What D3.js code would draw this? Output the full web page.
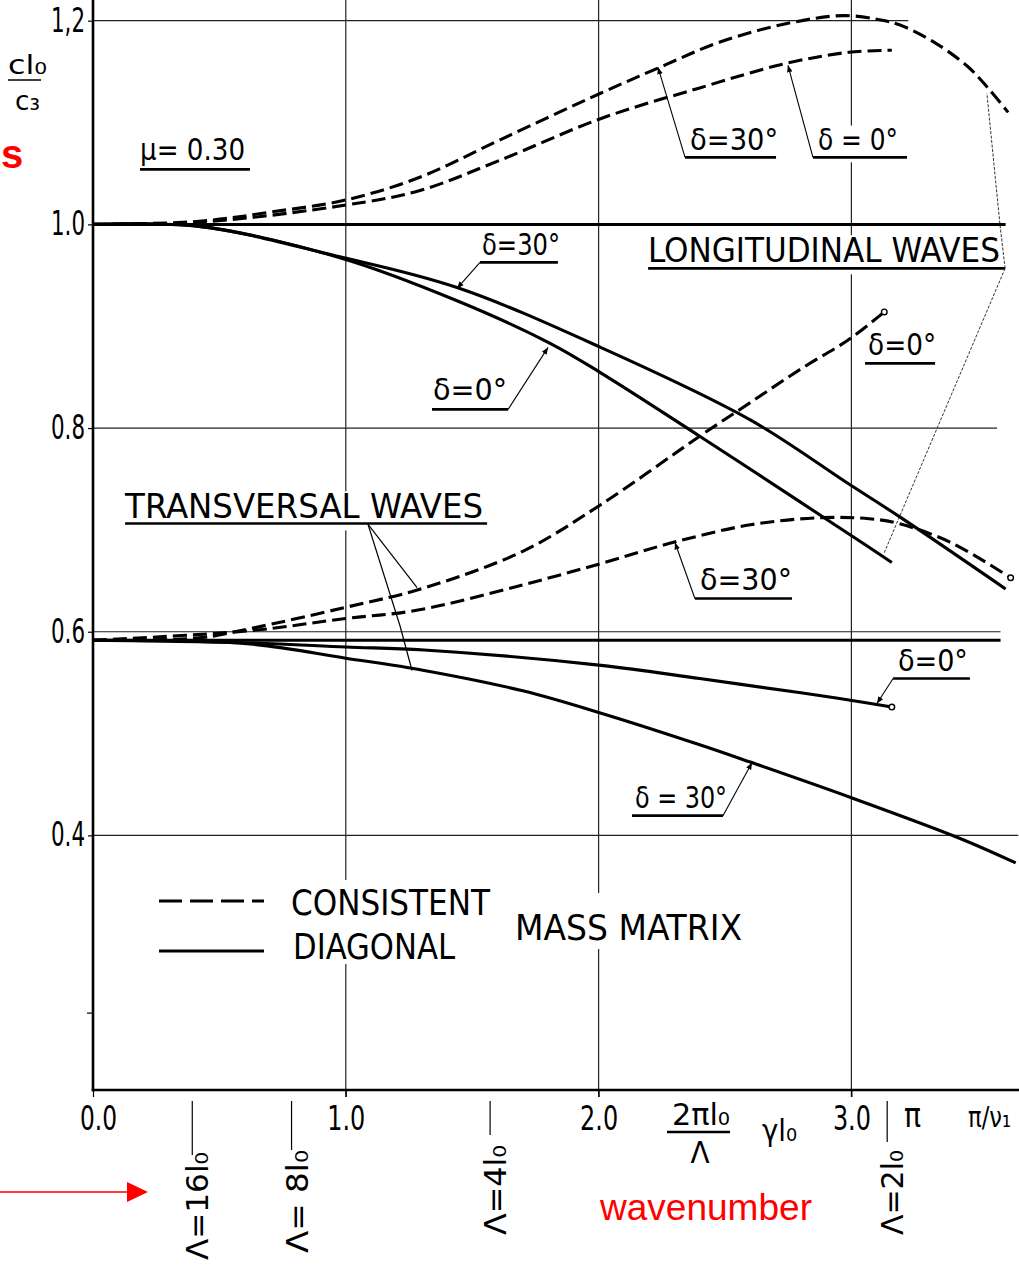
<!DOCTYPE html>
<html><head><meta charset="utf-8">
<script src="https://cdn.jsdelivr.net/npm/d3@7"></script>
<style>
html,body{margin:0;padding:0;background:#fff;}
svg{display:block;}
</style></head><body>
<svg id="c" width="1019" height="1268"></svg>
<script>
// ---------------- DATA ----------------
const yTicks = [0.4, 0.6, 0.8, 1.0, 1.2];
const yTickLabels = ["0.4", "0.6", "0.8", "1.0", "1,2"];
const yMinorTicks = [0.226];
const xTicks = [0, 1, 2, 3];
const xTickLabels = ["0.0", "1.0", "2.0", "3.0"];
const lambdaMultiples = [16, 8, 4, 2];            // Λ = n·l0  ->  γ l0 = 2π/n
const lambdaLabels = ["Λ=16l₀", "Λ= 8l₀", "Λ=4l₀", "Λ=2l₀"];

// Longitudinal waves
const longConsist30X = [0, 0.42, 0.70, 1.00, 1.29, 1.61, 2.01, 2.24, 2.48, 2.76, 2.97, 3.11, 3.19, 3.32, 3.46, 3.54, 3.62];
const longConsist30Y = [1.000, 1.003, 1.012, 1.024, 1.046, 1.083, 1.129, 1.154, 1.179, 1.198, 1.205, 1.201, 1.196, 1.180, 1.155, 1.134, 1.110];
const longConsist0X = [0, 0.42, 1.00, 1.29, 1.61, 2.01, 2.40, 2.74, 2.99, 3.16];
const longConsist0Y = [1.000, 1.002, 1.019, 1.033, 1.063, 1.104, 1.134, 1.158, 1.169, 1.171];
const longDiag30X = [0, 0.42, 0.98, 1.44, 2.01, 2.60, 2.99, 3.19, 3.61];
const longDiag30Y = [1.000, 0.998, 0.968, 0.938, 0.879, 0.808, 0.745, 0.713, 0.642];
const longDiag0X = [0, 0.42, 0.98, 1.44, 1.81, 2.01, 2.40, 2.80, 2.99, 3.16];
const longDiag0Y = [1.000, 0.998, 0.967, 0.925, 0.883, 0.854, 0.792, 0.727, 0.696, 0.668];

// Transversal waves
const transConsist0X = [0, 0.42, 0.62, 1.00, 1.31, 1.70, 2.01, 2.40, 2.60, 2.80, 2.99, 3.13];
const transConsist0Y = [0.5916, 0.594, 0.603, 0.624, 0.643, 0.679, 0.725, 0.792, 0.825, 0.858, 0.887, 0.914];
const transConsist30X = [0, 0.62, 1.00, 1.28, 1.70, 2.01, 2.30, 2.60, 2.88, 3.07, 3.19, 3.39, 3.63];
const transConsist30Y = [0.5916, 0.601, 0.613, 0.621, 0.646, 0.667, 0.688, 0.705, 0.712, 0.711, 0.706, 0.688, 0.653];
const transDiag0X = [0, 0.62, 1.00, 1.31, 2.01, 2.40, 2.80, 2.99, 3.16];
const transDiag0Y = [0.5916, 0.589, 0.585, 0.582, 0.567, 0.554, 0.540, 0.533, 0.526];
const transDiag30X = [0, 0.62, 1.00, 1.31, 1.70, 2.01, 2.40, 2.60, 3.00, 3.43, 3.65];
const transDiag30Y = [0.5916, 0.588, 0.574, 0.562, 0.542, 0.520, 0.489, 0.472, 0.437, 0.397, 0.373];

// reference levels (c/c3 = 1 and sqrt((1-μ)/2) for μ = 0.30)
const refLevels = [1.0, 0.5916];
const refLevelEnds = [3.61, 3.59];
const gridYValues = [0.4, 0.6, 0.8, 1.2];
const gridYEnds = [3.66, 3.59, 3.576, 3.225];
const gridXValues = [1, 2, 3];

// ---------------- SCALES ----------------
const W = 1019, H = 1268;
const x = d3.scaleLinear().domain([0, 3.6]).range([93, 93 + 3.6 * 252.8]);
const y = d3.scaleLinear().domain([0.15, 1.2]).range([1090, 20.7]);
const FONT = "'DejaVu Sans Condensed','Liberation Sans Narrow','Roboto Condensed','DejaVu Sans',sans-serif";
const svg = d3.select("#c");
svg.append("rect").attr("width", W).attr("height", H).attr("fill", "#fff");

// arrow marker for leaders
const defs = svg.append("defs");
defs.append("marker").attr("id", "ah").attr("viewBox", "0 0 10 10")
  .attr("refX", 10).attr("refY", 5).attr("markerWidth", 7).attr("markerHeight", 7)
  .attr("orient", "auto-start-reverse").attr("markerUnits", "userSpaceOnUse")
  .append("path").attr("d", "M0,1 L10,5 L0,9 Z").attr("fill", "#000");

// ---------------- GRID ----------------
const grid = svg.append("g");
gridYValues.forEach((v, i) => {
  grid.append("line").attr("x1", x(0)).attr("x2", x(gridYEnds[i]))
    .attr("y1", y(v)).attr("y2", y(v)).attr("stroke", "#222").attr("stroke-width", 1.2);
});
gridXValues.forEach(v => {
  grid.append("line").attr("x1", x(v)).attr("x2", x(v))
    .attr("y1", 0).attr("y2", y(0.15) + 7).attr("stroke", "#222").attr("stroke-width", 1.2);
});

// ---------------- LABEL HELPERS ----------------
const labelLayer = svg.append("g");
function txt(g, s, px, py, size, width, opts = {}) {
  const t = g.append("text").attr("x", px).attr("y", py)
    .attr("font-family", opts.family || FONT).attr("font-size", size)
    .attr("fill", opts.fill || "#000").text(s);
  if (opts.weight) t.attr("font-weight", opts.weight);
  if (opts.anchor) t.attr("text-anchor", opts.anchor);
  if (width) t.attr("textLength", width).attr("lengthAdjust", "spacingAndGlyphs");
  return t;
}
function bgBox(g, px, py, w, h) {
  g.append("rect").attr("x", px).attr("y", py).attr("width", w).attr("height", h).attr("fill", "#fff");
}

// annotations (positions in data units)
const annotations = [
  {s: "δ=30°", tx: 2.362, ty: 1.0727, w: 88, u: [2.342, 2.702, 1.0658], lead: [[2.342, 1.0658], [2.235, 1.1542]]},
  {s: "δ = 0°", tx: 2.868, ty: 1.0727, w: 80, u: [2.848, 3.220, 1.0658], lead: [[2.848, 1.0658], [2.749, 1.1562]]},
  {s: "δ=30°", tx: 1.539, ty: 0.9695, w: 78, u: [1.531, 1.839, 0.9627], lead: [[1.531, 0.9627], [1.440, 0.9371]]},
  {s: "δ=0°", tx: 1.345, ty: 0.8271, w: 74, u: [1.341, 1.642, 0.8183], lead: [[1.642, 0.8183], [1.800, 0.8792]]},
  {s: "δ=0°", tx: 3.066, ty: 0.8713, w: 68, u: [3.054, 3.331, 0.8635], lead: null},
  {s: "δ=30°", tx: 2.401, ty: 0.6405, w: 92, u: [2.381, 2.765, 0.6326], lead: [[2.381, 0.6326], [2.302, 0.6876]]},
  {s: "δ=0°", tx: 3.184, ty: 0.5619, w: 70, u: [3.165, 3.469, 0.554], lead: [[3.165, 0.554], [3.101, 0.5295]]},
  {s: "δ = 30°", tx: 2.144, ty: 0.4273, w: 92, u: [2.132, 2.492, 0.4194], lead: [[2.492, 0.4194], [2.607, 0.4715]]},
  {s: "μ= 0.30", tx: 0.186, ty: 1.0629, w: 105, u: [0.186, 0.621, 1.054], lead: null},
  {s: "LONGITUDINAL  WAVES", tx: 2.195, ty: 0.9627, w: 352, u: [2.196, 3.608, 0.9568], lead: null},
  {s: "TRANSVERSAL  WAVES", tx: 0.127, ty: 0.7112, w: 358, u: [0.127, 1.559, 0.7063], lead: null}
];
const bigLabels = new Set(["LONGITUDINAL  WAVES", "TRANSVERSAL  WAVES"]);
annotations.forEach(a => {
  const size = bigLabels.has(a.s) ? 34 : 31;
  bgBox(labelLayer, x(a.tx) - 4, y(a.ty) - size * 0.8, a.w + 8, size * 0.8 + 12);
});
annotations.forEach(a => {
  const size = bigLabels.has(a.s) ? 34 : 31;
  txt(labelLayer, a.s, x(a.tx), y(a.ty), size, a.w);
  labelLayer.append("line").attr("x1", x(a.u[0])).attr("x2", x(a.u[1]))
    .attr("y1", y(a.u[2])).attr("y2", y(a.u[2])).attr("stroke", "#000").attr("stroke-width", 2.6);
  if (a.lead) {
    labelLayer.append("path").attr("d", d3.line()(a.lead.map(p => [x(p[0]), y(p[1])])))
      .attr("fill", "none").attr("stroke", "#000").attr("stroke-width", 1.1).attr("marker-end", "url(#ah)");
  }
});
// multi-branch leaders
const leaderLong1 = [[3.608, 0.9568], [3.588, 0.999], [3.536, 1.1287]];
const leaderLong2 = [[3.608, 0.9568], [3.204, 0.721], [3.129, 0.677]];
const leaderTrans1 = [[1.088, 0.7053], [1.282, 0.6434]];
const leaderTrans2 = [[1.088, 0.7053], [1.214, 0.6061], [1.262, 0.5619]];
[leaderLong1, leaderLong2].forEach(L => {
  labelLayer.append("path").attr("d", d3.line()(L.map(p => [x(p[0]), y(p[1])])))
    .attr("fill", "none").attr("stroke", "#333").attr("stroke-width", 1).attr("stroke-dasharray", "3,1.5");
});
[leaderTrans1, leaderTrans2].forEach(L => {
  labelLayer.append("path").attr("d", d3.line()(L.map(p => [x(p[0]), y(p[1])])))
    .attr("fill", "none").attr("stroke", "#000").attr("stroke-width", 1.2);
});

// legend
const lg = svg.append("g");
bgBox(lg, 285, 880, 212, 84);
bgBox(lg, 508, 893, 240, 56);
lg.append("line").attr("x1", 159).attr("x2", 264).attr("y1", 901).attr("y2", 901)
  .attr("stroke", "#000").attr("stroke-width", 3.2).attr("stroke-dasharray", "23,8");
lg.append("line").attr("x1", 159).attr("x2", 264).attr("y1", 951).attr("y2", 951)
  .attr("stroke", "#000").attr("stroke-width", 3.2);
txt(lg, "CONSISTENT", 291, 915, 36, 199);
txt(lg, "DIAGONAL", 293, 959, 36, 162);
txt(lg, "MASS  MATRIX", 515, 940, 36, 227);

// ---------------- REFERENCE LEVELS ----------------
refLevels.forEach((v, i) => {
  svg.append("line").attr("x1", x(0)).attr("x2", x(refLevelEnds[i]))
    .attr("y1", y(v)).attr("y2", y(v)).attr("stroke", "#000").attr("stroke-width", 3);
});

// ---------------- CURVES ----------------
const series = [
  {xs: longConsist30X, ys: longConsist30Y, dashed: true, endMark: false},
  {xs: longConsist0X, ys: longConsist0Y, dashed: true, endMark: false},
  {xs: longDiag30X, ys: longDiag30Y, dashed: false, endMark: false},
  {xs: longDiag0X, ys: longDiag0Y, dashed: false, endMark: false},
  {xs: transConsist0X, ys: transConsist0Y, dashed: true, endMark: true},
  {xs: transConsist30X, ys: transConsist30Y, dashed: true, endMark: true},
  {xs: transDiag0X, ys: transDiag0Y, dashed: false, endMark: true},
  {xs: transDiag30X, ys: transDiag30Y, dashed: false, endMark: false}
];
const line = d3.line().x(d => x(d[0])).y(d => y(d[1])).curve(d3.curveCatmullRom.alpha(0.5));
const cg = svg.append("g");
series.forEach(s => {
  const pts = s.xs.map((v, i) => [v, s.ys[i]]);
  cg.append("path").attr("d", line(pts)).attr("fill", "none").attr("stroke", "#000")
    .attr("stroke-width", 3.1).attr("stroke-linecap", "butt")
    .attr("stroke-dasharray", s.dashed ? "14,6" : null);
  if (s.endMark) {
    const e = pts[pts.length - 1];
    cg.append("circle").attr("cx", x(e[0])).attr("cy", y(e[1])).attr("r", 2.8)
      .attr("fill", "#fff").attr("stroke", "#000").attr("stroke-width", 1.4);
  }
});

// ---------------- AXES ----------------
const ax = svg.append("g");
const yAxis = d3.axisLeft(y).tickValues(yTicks).tickFormat((d, i) => yTickLabels[i]).tickSize(5).tickPadding(3);
const yg = ax.append("g").attr("transform", `translate(${x(0)},0)`).call(yAxis);
yg.select(".domain").remove();
yg.selectAll(".tick line").attr("stroke", "#000").attr("stroke-width", 1.2);
yg.selectAll(".tick text").attr("font-family", FONT).attr("font-size", 33).attr("fill", "#000")
  .attr("textLength", 34).attr("lengthAdjust", "spacingAndGlyphs");
const ymg = ax.append("g").attr("transform", `translate(${x(0)},0)`)
  .call(d3.axisLeft(y).tickValues(yMinorTicks).tickFormat("").tickSize(6));
ymg.select(".domain").remove();
ymg.selectAll(".tick line").attr("stroke", "#000").attr("stroke-width", 1.2);

const xAxis = d3.axisBottom(x).tickValues(xTicks).tickFormat((d, i) => xTickLabels[i]).tickSize(7).tickPadding(9);
const xg = ax.append("g").attr("transform", `translate(0,${y(0.15)})`).call(xAxis);
xg.select(".domain").remove();
xg.selectAll(".tick line").attr("stroke", "#000").attr("stroke-width", 1.2);
xg.selectAll(".tick text").attr("font-family", FONT).attr("font-size", 34).attr("fill", "#000")
  .attr("textLength", (d, i) => i === 0 ? 37 : 38).attr("lengthAdjust", "spacingAndGlyphs")
  .attr("dx", (d, i) => i === 0 ? 5 : 0);

// main axis lines
ax.append("line").attr("x1", x(0)).attr("x2", x(0)).attr("y1", 0).attr("y2", y(0.15) + 1.2)
  .attr("stroke", "#000").attr("stroke-width", 2.6);
ax.append("line").attr("x1", x(0) - 1.3).attr("x2", W).attr("y1", y(0.15)).attr("y2", y(0.15))
  .attr("stroke", "#000").attr("stroke-width", 2.6);

// wavelength markers
const lamTop = [1152, 1150, 1145, 1150];
const lamBottom = [1260, 1253, 1235, 1235];
const lamMarkEnd = [1155, 1150, 1135, 1142];
lambdaMultiples.forEach((n, i) => {
  const kx = x(2 * Math.PI / n);
  ax.append("line").attr("x1", kx).attr("x2", kx).attr("y1", y(0.15) + 11).attr("y2", lamMarkEnd[i])
    .attr("stroke", "#000").attr("stroke-width", 1.2);
  ax.append("text").attr("transform", `translate(${kx + 5},${lamBottom[i]}) rotate(-90)`)
    .attr("font-family", FONT).attr("font-size", 31).attr("dominant-baseline", "central")
    .attr("textLength", lamBottom[i] - lamTop[i]).attr("lengthAdjust", "spacingAndGlyphs")
    .text(lambdaLabels[i]);
});

// x-axis extra labels
txt(ax, "2πl₀", 672, 1125, 31, 58);
ax.append("line").attr("x1", 667).attr("x2", 730).attr("y1", 1132).attr("y2", 1132).attr("stroke", "#000").attr("stroke-width", 2.6);
txt(ax, "Λ", 700, 1163, 31, null, {anchor: "middle"});
txt(ax, "γl₀", 762, 1141, 31, 35);
txt(ax, "π", 904, 1127, 34, 17);
txt(ax, "π/ν₁", 968, 1127, 29, 43);

// y-axis title
txt(ax, "cl₀", 8, 74, 27, 39);
ax.append("line").attr("x1", 8).attr("x2", 41).attr("y1", 80).attr("y2", 80).attr("stroke", "#000").attr("stroke-width", 1.6);
txt(ax, "c₃", 15, 110, 27, 25);

// red overlay annotations
const red = "#ff0000";
txt(svg, "wavenumber", 600, 1220, 37, 212, {family: "'Liberation Sans',Arial,sans-serif", fill: red});
svg.append("line").attr("x1", 0).attr("x2", 130).attr("y1", 1192).attr("y2", 1192).attr("stroke", red).attr("stroke-width", 1.6);
svg.append("path").attr("d", "M127,1182 L148,1192 L127,1202 Z").attr("fill", red);
txt(svg, "s", 1, 168, 40, null, {family: "'Liberation Sans',Arial,sans-serif", fill: red, weight: "bold"});
</script>
</body></html>
